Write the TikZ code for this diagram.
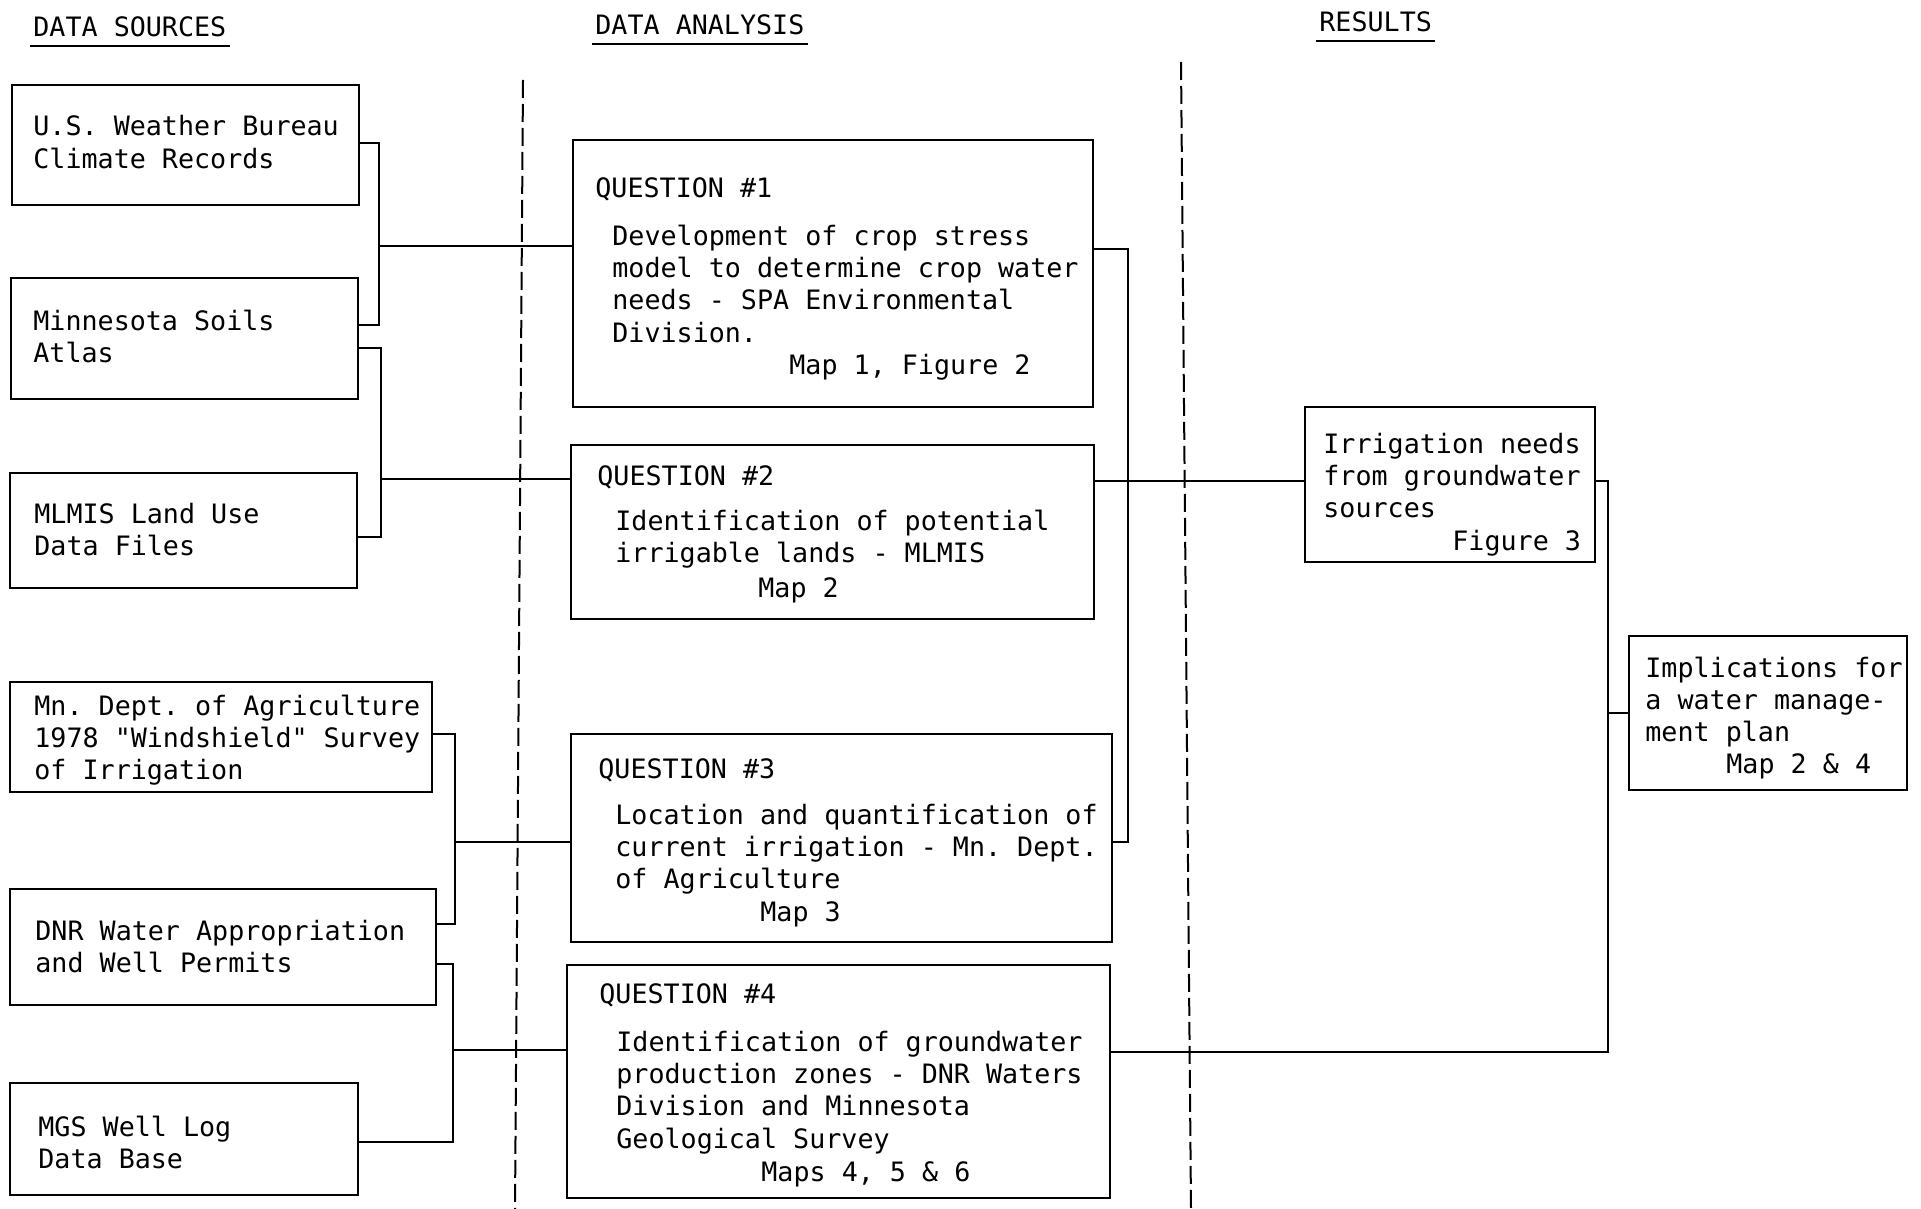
\documentclass[tikz,border=0pt]{standalone}
\usepackage{fontspec}
\newfontfamily\typew{DejaVu Sans Mono}
\usetikzlibrary{fit}
\begin{document}
\frenchspacing
\begin{tikzpicture}[x=0.5pt, y=-0.5pt,
  box/.style={draw, line width=1.2pt, inner sep=0pt},
  conn/.style={line width=1.1pt},
  divider/.style={line width=1pt, dash pattern=on 9pt off 3pt},
  txt/.style={font=\typew\fontsize{13.35}{16.2}\selectfont\frenchspacing, anchor=base west, inner sep=0pt, align=left},
  uline/.style={line width=1pt}
]
\useasboundingbox[fill=white] (0,0) rectangle (1921,1209);

% headers
\node[txt] (h1) at (33,37) {DATA SOURCES};
\node[txt] (h2) at (595,35) {DATA ANALYSIS};
\node[txt] (h3) at (1319,32) {RESULTS};
\draw[uline] ([shift={(-1.5pt,-4.5pt)}]h1.base west) -- ([shift={(1.5pt,-4.5pt)}]h1.base east);
\draw[uline] ([shift={(-1.5pt,-4.5pt)}]h2.base west) -- ([shift={(1.5pt,-4.5pt)}]h2.base east);
\draw[uline] ([shift={(-1.5pt,-4.5pt)}]h3.base west) -- ([shift={(1.5pt,-4.5pt)}]h3.base east);

% dividers
\coordinate (d1t) at (523,80);
\coordinate (d1b) at (515,1209);
\coordinate (d2t) at (1181,62);
\coordinate (d2b) at (1191,1209);
\draw[divider] (d1t) -- (d1b);
\draw[divider] (d2t) -- (d2b);

% data source boxes
\node[box, fit={(12,85) (359,205)}] (b1) {};
\node[box, fit={(11,278) (358,399)}] (b2) {};
\node[box, fit={(10,473) (357,588)}] (b3) {};
\node[box, fit={(10,682) (432,792)}] (b4) {};
\node[box, fit={(10,889) (436,1005)}] (b5) {};
\node[box, fit={(10,1083) (358,1195)}] (b6) {};

% (multi-line texts are placed at the baseline of their last line)
\node[txt] (t1) at (33,168.4) {U.S. Weather Bureau\\Climate Records};
\node[txt] (t2) at (33,362.4) {Minnesota Soils\\Atlas};
\node[txt] (t3) at (34,555.4) {MLMIS Land Use\\Data Files};
\node[txt] (t4) at (34,779.8) {Mn. Dept. of Agriculture\\1978 "Windshield" Survey\\of Irrigation};
\node[txt] (t5) at (35,972.4) {DNR Water Appropriation\\and Well Permits};
\node[txt] (t6) at (38,1168.4) {MGS Well Log\\Data Base};

% question boxes
\node[box, fit={(573,140) (1093,407)}] (q1) {};
\node[box, fit={(571,445) (1094,619)}] (q2) {};
\node[box, fit={(571,734) (1112,942)}] (q3) {};
\node[box, fit={(567,965) (1110,1198)}] (q4) {};

\node[txt] (q1h) at (595,198) {QUESTION \#1};
\node[txt] (q1b) at (612,342.2) {Development of crop stress\\model to determine crop water\\needs - SPA Environmental\\Division.};
\node[txt] (q1m) at (789,374) {Map 1, Figure 2};

\node[txt] (q2h) at (597,485) {QUESTION \#2};
\node[txt] (q2b) at (615,562.4) {Identification of potential\\irrigable lands - MLMIS};
\node[txt] (q2m) at (758,597) {Map 2};

\node[txt] (q3h) at (598,778) {QUESTION \#3};
\node[txt] (q3b) at (615,888.8) {Location and quantification of\\current irrigation - Mn. Dept.\\of Agriculture};
\node[txt] (q3m) at (760,921) {Map 3};

\node[txt] (q4h) at (599,1003) {QUESTION \#4};
\node[txt] (q4b) at (616,1148.2) {Identification of groundwater\\production zones - DNR Waters\\Division and Minnesota\\Geological Survey};
\node[txt] (q4m) at (761,1181) {Maps 4, 5 \& 6};

% result boxes
\node[box, fit={(1305,407) (1595,562)}] (r1) {};
\node[box, fit={(1629,636) (1907,790)}] (r2) {};
\node[txt] (r1t) at (1323,517.8) {Irrigation needs\\from groundwater\\sources};
\node[txt] (r1m) at (1452,550) {Figure 3};
\node[txt] (r2t) at (1645,741.8) {Implications for\\a water manage-\\ment plan};
\node[txt] (r2m) at (1726,773) {Map 2 \& 4};

% connectors
\coordinate (j1a) at (379,143);
\coordinate (j1b) at (379,325);
\coordinate (j1m) at (379,246);
\coordinate (j2a) at (381,348);
\coordinate (j2b) at (381,537);
\coordinate (j2m) at (381,479);
\coordinate (j3a) at (455,734);
\coordinate (j3b) at (455,924);
\coordinate (j3m) at (455,842);
\coordinate (j4a) at (453,964);
\coordinate (j4b) at (453,1142);
\coordinate (j4m) at (453,1050);
\coordinate (j5a) at (1128,249);
\coordinate (j5b) at (1128,842);
\coordinate (j6) at (1200,481);
\coordinate (j7a) at (1608,481);
\coordinate (j7b) at (1608,1052);
\coordinate (j7m) at (1608,713);

\draw[conn] (b1.east |- j1a) -- (j1a) -- (j1b) -- (b2.east |- j1b);
\draw[conn] (j1m) -- (q1.west |- j1m);
\draw[conn] (b2.east |- j2a) -- (j2a) -- (j2b) -- (b3.east |- j2b);
\draw[conn] (j2m) -- (q2.west |- j2m);
\draw[conn] (b4.east |- j3a) -- (j3a) -- (j3b) -- (b5.east |- j3b);
\draw[conn] (j3m) -- (q3.west |- j3m);
\draw[conn] (b5.east |- j4a) -- (j4a) -- (j4b) -- (b6.east |- j4b);
\draw[conn] (j4m) -- (q4.west |- j4m);
\draw[conn] (q1.east |- j5a) -- (j5a) -- (j5b) -- (q3.east |- j5b);
\draw[conn] (q2.east |- j6) -- (r1.west |- j6);
\draw[conn] (r1.east |- j7a) -- (j7a) -- (j7b) -- (q4.east |- j7b);
\draw[conn] (j7m) -- (r2.west |- j7m);
\end{tikzpicture}
\end{document}
